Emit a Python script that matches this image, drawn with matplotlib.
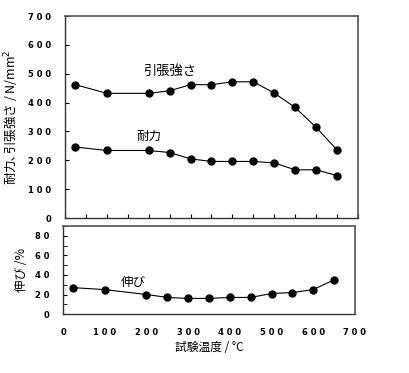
import matplotlib
matplotlib.use('Agg')
import matplotlib.pyplot as plt
from matplotlib.ticker import FuncFormatter, MultipleLocator

plt.rcParams['font.family'] = ['Noto Sans CJK JP', 'DejaVu Sans']

# data
temp = [25, 100, 200, 250, 300, 350, 400, 450, 500, 550, 600, 650]
tensile = [462, 432, 432, 441, 462, 462, 472, 472, 433, 383, 314, 236]
proof = [246, 234, 234, 227, 205, 196, 196, 196, 191, 167, 167, 147]
elong = [27, 25, 20, 17, 16, 16, 17, 17, 21, 22, 25, 35]


def spaced(v, pos):
    return ' '.join(str(int(v)))


fig = plt.figure(figsize=(4.10, 3.73), dpi=100)
ax1 = fig.add_axes([0.1585, 0.4155, 0.7146, 0.5416])
ax2 = fig.add_axes([0.1537, 0.158, 0.712, 0.236])

line_kw = dict(color='black', lw=0.8, marker='o', ms=5, mfc='black', mec='black')
tick_font = dict(family='DejaVu Sans', size=6, weight='bold')

# upper panel: strength
ax1.plot(temp, tensile, **line_kw)
ax1.plot(temp, proof, **line_kw)
ax1.set_xlim(0, 700)
ax1.set_ylim(0, 700)
ax1.xaxis.set_major_locator(MultipleLocator(50))
ax1.yaxis.set_major_locator(MultipleLocator(100))
ax1.yaxis.set_major_formatter(FuncFormatter(spaced))
ax1.tick_params(axis='x', direction='in', length=3, labelbottom=False)
ax1.tick_params(axis='y', direction='in', length=3, pad=10)
for lab in ax1.get_yticklabels():
    lab.set_fontproperties(tick_font)
ax1.set_ylabel('耐力､引張強さ / N/mm$^2$', fontsize=9, labelpad=5)
ax1.text(251, 509, '引張強さ', fontsize=9.5, ha='center', va='center')
ax1.text(200, 284, '耐力', fontsize=9, ha='center', va='center')

# lower panel: elongation
ax2.plot(temp, elong, **line_kw)
ax2.set_xlim(0, 700)
ax2.set_ylim(0, 90)
ax2.xaxis.set_major_locator(MultipleLocator(100))
ax2.xaxis.set_major_formatter(FuncFormatter(spaced))
ax2.yaxis.set_major_locator(MultipleLocator(20))
ax2.yaxis.set_minor_locator(MultipleLocator(10))
ax2.yaxis.set_major_formatter(FuncFormatter(spaced))
ax2.tick_params(axis='x', direction='in', length=0, pad=10)
ax2.tick_params(axis='y', which='both', direction='in', length=3, pad=10)
for lab in ax2.get_xticklabels() + ax2.get_yticklabels():
    lab.set_fontproperties(tick_font)
ax2.set_ylabel('伸び /%', fontsize=9, labelpad=5)
ax2.set_xlabel('試験温度 / °C', fontsize=8.5, labelpad=3)
ax2.text(168, 32, '伸び', fontsize=9, ha='center', va='center')

for ax in (ax1, ax2):
    for side in ('top', 'right'):
        ax.spines[side].set_color('#555555')
        ax.spines[side].set_linewidth(1.2)
    for side in ('left', 'bottom'):
        ax.spines[side].set_color('#333333')
        ax.spines[side].set_linewidth(1.0)

fig.savefig('out.png', dpi=100)
